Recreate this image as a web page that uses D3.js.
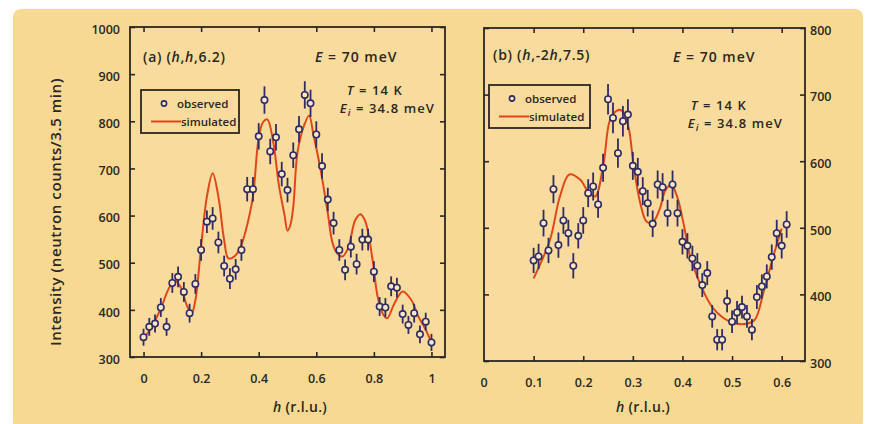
<!DOCTYPE html>
<html>
<head>
<script src="https://cdn.jsdelivr.net/npm/d3@7"></script>
<style>
  body { margin: 0; background: #fff; }
  svg { display: block; font-family: "Open Sans", sans-serif; font-weight: 600; }
  .frame { fill: none; stroke: #2b2722; stroke-width: 1.8; }
  .tick line { stroke: #2b2722; stroke-width: 1.6; }
  .tick text { fill: #2b2722; font-size: 12.5px; font-family: "Open Sans", sans-serif; font-weight: 600; }
  .lbl { fill: #2b2722; }
</style>
</head>
<body>
<svg width="884" height="424"></svg>
<script>
// panel (a) (h,h,6.2) - observed
const hA = [0,0.02,0.04,0.06,0.08,0.1,0.12,0.14,0.16,0.18,0.2,0.22,0.24,0.26,0.28,0.3,0.32,0.34,0.36,0.38,
  0.4,0.42,0.44,0.46,0.48,0.5,0.52,0.54,0.56,0.58,0.6,0.62,0.64,0.66,0.68,0.7,0.72,0.74,0.76,0.78,
  0.8,0.82,0.84,0.86,0.88,0.9,0.92,0.94,0.96,0.98,1.0];
const countsA = [342,364,371,405,364,457,470,438,393,455,527,587,594,543,493,466,486,527,656,656,
  768,845,736,766,688,654,728,783,856,838,772,705,634,584,527,485,534,497,549,549,
  481,407,405,450,447,391,368,393,348,375,331];
const errA = [18,19,19,20,19,21,22,21,20,21,23,24,24,23,22,22,22,23,26,26,
  28,29,27,28,26,26,27,28,29,29,28,27,25,24,23,22,23,22,23,23,
  22,20,20,21,21,20,19,20,19,19,18];
// panel (a) - simulated
const simHA = [0,0.03,0.06,0.09,0.11,0.13,0.15,0.167,0.18,0.2,0.22,0.24,0.26,0.28,0.295,0.32,0.34,0.36,0.38,
  0.4,0.415,0.43,0.45,0.47,0.49,0.5,0.51,0.52,0.535,0.557,0.575,0.59,0.615,0.64,0.655,0.67,0.69,0.71,
  0.735,0.753,0.77,0.795,0.813,0.83,0.846,0.87,0.9,0.93,0.955,0.98,1.0];
const simA = [338,365,403,448,462,447,410,393,420,535,640,690,640,548,509,516,538,580,640,
  765,798,804,758,665,600,568,580,618,735,790,812,772,697,605,545,522,513,530,
  590,603,588,508,428,393,382,412,439,421,385,358,330];

// panel (b) (h,-2h,7.5) - observed
const hB = [0.1,0.11,0.12,0.13,0.14,0.15,0.16,0.17,0.18,0.19,0.2,0.21,0.22,0.23,0.24,0.25,0.26,0.27,0.28,0.29,
  0.3,0.31,0.32,0.33,0.34,0.35,0.36,0.37,0.38,0.39,0.4,0.41,0.42,0.43,0.44,0.45,0.46,0.47,0.48,0.49,
  0.5,0.51,0.52,0.53,0.54,0.55,0.56,0.57,0.58,0.59,0.6,0.61];
const countsB = [451,457,507,466,558,474,511,492,443,488,511,552,562,535,590,693,665,612,660,670,
  593,584,555,537,506,565,561,522,565,522,479,473,454,443,414,432,367,332,332,390,
  359,373,381,367,347,396,412,427,456,492,473,505];
const errB = [19,19,20,19,21,19,20,20,19,19,20,21,21,20,21,23,23,22,23,23,
  21,21,21,20,20,21,21,20,21,20,19,19,19,19,18,18,17,16,16,17,
  17,17,17,17,16,18,18,18,19,20,19,20];
// panel (b) - simulated
const simHB = [0.1,0.133,0.153,0.172,0.194,0.21,0.224,0.241,0.254,0.268,0.278,0.291,0.301,0.315,0.328,0.341,
  0.355,0.366,0.378,0.39,0.402,0.415,0.435,0.462,0.496,0.53,0.546,0.563,0.583,0.6];
const simB = [424,482,547,580,572,554,547,597,662,676,676,652,597,537,509,509,
  530,557,564,545,507,459,417,379,359,356,362,402,457,499];

const xTicksA = [0,0.2,0.4,0.6,0.8,1];
const yTicksA = [300,400,500,600,700,800,900,1000];
const xTicksB = [0,0.1,0.2,0.3,0.4,0.5,0.6];
const yTicksB = [300,400,500,600,700,800];

const ink = "#2b2722", navy = "#2e2b66", red = "#e0461a";
const svg = d3.select("svg");

svg.append("rect").attr("x", 13).attr("y", 9).attr("width", 850).attr("height", 420)
  .attr("rx", 8).attr("fill", "#f8d994");

function panel(cfg) {
  const x = d3.scaleLinear().domain(cfg.xdom).range([cfg.x0, cfg.x1]);
  const y = d3.scaleLinear().domain(cfg.ydom).range([cfg.y1, cfg.y0]);
  const g = svg.append("g");

  g.append("rect").attr("x", cfg.x0).attr("y", cfg.y0)
    .attr("width", cfg.x1 - cfg.x0).attr("height", cfg.y1 - cfg.y0)
    .attr("fill", "#f9dc9d");

  const fmt = d3.format("");
  const bottom = g.append("g").attr("transform", `translate(0,${cfg.y1})`)
    .call(d3.axisBottom(x).tickValues(cfg.xticks).tickSize(-5).tickPadding(17).tickFormat(d => fmt(d)));
  g.append("g").attr("transform", `translate(0,${cfg.y0})`)
    .call(d3.axisTop(x).tickValues(cfg.xticks).tickSize(-5).tickFormat(""));
  g.append("g").attr("transform", `translate(${cfg.x0},0)`)
    .call(d3.axisLeft(y).tickValues(cfg.yticks).tickSize(-5).tickPadding(10)
      .tickFormat(cfg.labelsRight ? "" : d => d));
  g.append("g").attr("transform", `translate(${cfg.x1},0)`)
    .call(d3.axisRight(y).tickValues(cfg.yticks).tickSize(-5).tickPadding(5)
      .tickFormat(cfg.labelsRight ? d => d : ""));
  g.selectAll(".domain").remove();
  g.selectAll(".tick text").attr("dy", "0.5em");
  bottom.selectAll(".tick text").attr("dy", "0.71em");

  // simulated line
  const pts = cfg.simH.map((h, i) => [h, cfg.sim[i]]);
  g.append("path").datum(pts)
    .attr("d", d3.line().x(d => x(d[0])).y(d => y(d[1])).curve(d3.curveCatmullRom.alpha(0.5)))
    .attr("fill", "none").attr("stroke", red).attr("stroke-width", 2);

  // observed with error bars
  const obs = cfg.h.map((h, i) => ({ h: h, v: cfg.counts[i], e: cfg.err[i] }));
  g.append("g").selectAll("line").data(obs).join("line")
    .attr("x1", d => x(d.h)).attr("x2", d => x(d.h))
    .attr("y1", d => y(d.v - d.e)).attr("y2", d => y(d.v + d.e))
    .attr("stroke", navy).attr("stroke-width", 1.8);
  g.append("g").selectAll("circle").data(obs).join("circle")
    .attr("cx", d => x(d.h)).attr("cy", d => y(d.v)).attr("r", 3.2)
    .attr("fill", "#fbe8c2").attr("stroke", navy).attr("stroke-width", 1.6);

  g.append("rect").attr("class", "frame").attr("x", cfg.x0).attr("y", cfg.y0)
    .attr("width", cfg.x1 - cfg.x0).attr("height", cfg.y1 - cfg.y0);

  // axis title
  const t = g.append("text").attr("class", "lbl").attr("x", cfg.titleX).attr("y", 412)
    .attr("text-anchor", "middle").style("font-size", "14px").style("letter-spacing", "0.3px");
  t.append("tspan").attr("font-style", "italic").text("h");
  t.append("tspan").text(" (r.l.u.)");

  // legend
  const L = cfg.legend;
  g.append("rect").attr("x", L.x).attr("y", L.y).attr("width", L.w).attr("height", 43)
    .attr("fill", "none").attr("stroke", ink).attr("stroke-width", 1.8);
  g.append("circle").attr("cx", L.x + 23).attr("cy", L.y + 13.5).attr("r", 2.6)
    .attr("fill", "#fbe8c2").attr("stroke", navy).attr("stroke-width", 1.6);
  g.append("text").attr("class", "lbl").attr("x", L.x + 36).attr("y", L.y + 18)
    .style("font-size", "11.5px").text("observed");
  g.append("line").attr("x1", L.x + 10).attr("x2", L.x + 40)
    .attr("y1", L.y + 31.5).attr("y2", L.y + 31.5).attr("stroke", red).attr("stroke-width", 2);
  g.append("text").attr("class", "lbl").attr("x", L.x + 40).attr("y", L.y + 36)
    .style("font-size", "11.5px").text("simulated");

  // annotations
  const a = g.append("text").attr("class", "lbl").attr("x", cfg.x0 + cfg.tagDx).attr("y", cfg.tagY)
    .style("font-size", "14px").style("letter-spacing", "0.7px");
  cfg.tag.forEach(p => a.append("tspan").attr("font-style", p[1] ? "italic" : null).text(p[0]));

  const e = g.append("text").attr("class", "lbl").attr("x", cfg.eX).attr("y", 62)
    .style("font-size", "14px").style("letter-spacing", "1px");
  e.append("tspan").attr("font-style", "italic").text("E");
  e.append("tspan").text(" = 70 meV");

  const tt = g.append("text").attr("class", "lbl").attr("x", cfg.tX).attr("y", cfg.tY)
    .attr("text-anchor", "end").style("font-size", "13px").style("letter-spacing", "1.1px");
  tt.append("tspan").attr("font-style", "italic").text("T");
  tt.append("tspan").text(" = 14 K");

  const ei = g.append("text").attr("class", "lbl").attr("x", cfg.eiX).attr("y", cfg.tY + 18)
    .attr("text-anchor", "end").style("font-size", "13px").style("letter-spacing", "1.1px");
  ei.append("tspan").attr("font-style", "italic").text("E");
  ei.append("tspan").attr("font-style", "italic").attr("font-size", "9.5px").attr("dy", 3).text("i");
  ei.append("tspan").attr("dy", -3).text(" = 34.8 meV");
}

panel({
  x0: 130, x1: 445, y0: 27, y1: 357, xdom: [-0.047, 1.047], ydom: [300, 1000],
  xticks: xTicksA, yticks: yTicksA, labelsRight: false,
  h: hA, counts: countsA, err: errA, simH: simHA, sim: simA,
  titleX: 300, legend: { x: 141, y: 90, w: 98 },
  tag: [["(a) (", 0], ["h", 1], [",", 0], ["h", 1], [",6.2)", 0]], tagDx: 13, tagY: 62,
  eX: 315, tX: 403, tY: 95, eiX: 435
});

panel({
  x0: 484, x1: 805, y0: 28, y1: 361, xdom: [0, 0.647], ydom: [300, 800],
  xticks: xTicksB.slice(1), yticks: yTicksB, labelsRight: true,
  h: hB, counts: countsB, err: errB, simH: simHB, sim: simB,
  titleX: 643, legend: { x: 489, y: 85, w: 101 },
  tag: [["(b) (", 0], ["h", 1], [",-2", 0], ["h", 1], [",7.5)", 0]], tagDx: 9, tagY: 60,
  eX: 673, tX: 747, tY: 110, eiX: 783
});

// x label "0" at the left edge of panel (b)
svg.append("text").attr("class", "lbl").attr("x", 484).attr("y", 378).attr("dy", "0.71em")
  .attr("text-anchor", "middle").style("font-size", "12.5px").text(d3.format("")(xTicksB[0]));

// shared y title
svg.append("text").attr("class", "lbl")
  .attr("transform", "translate(61,212) rotate(-90)")
  .attr("text-anchor", "middle").style("font-size", "15px").style("letter-spacing", "0.6px")
  .text("Intensity (neutron counts/3.5 min)");
</script>
</body>
</html>
